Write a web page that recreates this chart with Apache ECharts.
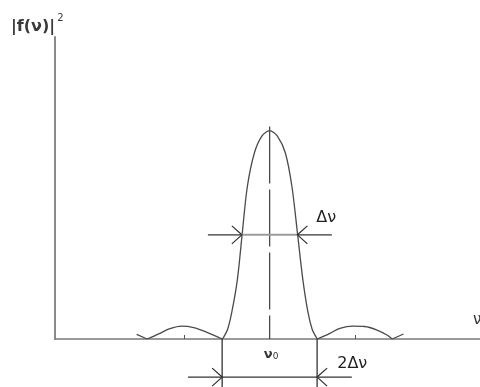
<!DOCTYPE html>
<html>
<head>
<meta charset="utf-8">
<script src="https://cdn.jsdelivr.net/npm/echarts@6/dist/echarts.min.js"></script>
<style>
  html, body { margin: 0; padding: 0; background: #fff; }
  #chart { width: 480px; height: 387px; }
</style>
</head>
<body>
<div id="chart"></div>
<script>
// Line profile |f(ν)|² around the centre frequency ν0.
// x: offset from ν0 (main-lobe zeros at ±1), y: intensity normalised to the peak.
const mainLobe = [
  [-1.0, 0], [-0.98, 0.005], [-0.89, 0.043], [-0.80, 0.125], [-0.68, 0.284],
  [-0.58, 0.5], [-0.47, 0.731], [-0.32, 0.894], [-0.16, 0.975], [0, 1],
  [0.16, 0.975], [0.33, 0.894], [0.47, 0.731], [0.59, 0.5], [0.70, 0.284],
  [0.81, 0.125], [0.90, 0.043], [0.99, 0.005], [1.0, 0]
];
const leftLobe = [
  [-2.58, 0], [-2.31, 0.027], [-2.1, 0.05], [-1.85, 0.062], [-1.6, 0.055],
  [-1.32, 0.032], [-1.0, 0]
];
const rightLobe = [
  [1.0, 0], [1.27, 0.027], [1.48, 0.051], [1.75, 0.062], [2.0, 0.06],
  [2.26, 0.043], [2.47, 0.019], [2.58, 0]
];
const leftTail = [[-2.8, 0.022], [-2.58, 0]];
const rightTail = [[2.58, 0], [2.82, 0.024]];

// Small ticks on the frequency axis (side-lobe maxima and ν0)
const axisTickValues = [-1.8, 0, 1.8];

// Widths marked on the profile
const halfMax = 0.5;      // level of the Δν marker
const halfWidth = 0.585;  // half of Δν (crossing of the half maximum)
const firstZero = 1.0;    // half of 2Δν (first zeros of the main lobe)

const chart = echarts.init(document.getElementById('chart'), null, { renderer: 'canvas' });

const curveColor = '#4a4a4a';
function curve(data, smooth) {
  return {
    type: 'line', data: data, smooth: smooth, symbol: 'none', silent: true,
    lineStyle: { color: curveColor, width: 1.3 }, z: 3
  };
}

function renderMarks(params, api) {
  const c = (x, y) => api.coord([x, y]);
  const dark = { stroke: '#333', lineWidth: 1.3, fill: null };
  const seg = (p, q, style) => ({
    type: 'line', shape: { x1: p[0], y1: p[1], x2: q[0], y2: q[1] }, style: style
  });
  const head = (tip, dir) => ({
    type: 'polyline',
    shape: { points: [[tip[0] - dir * 10, tip[1] - 9], tip, [tip[0] - dir * 10, tip[1] + 9]] },
    style: dark
  });
  const text = (p, str, size) => ({
    type: 'text', x: p[0], y: p[1],
    style: {
      text: str, fill: '#222', fontSize: size, fontFamily: 'DejaVu Sans',
      align: 'center', verticalAlign: 'middle'
    }
  });

  const yLow = -0.183;   // level of the 2Δν marker below the axis
  const nuZero = c(0.03, -0.072);
  const children = [
    // centre line at ν0
    seg(c(0, 1.02), c(0, 0), { stroke: curveColor, lineWidth: 1.3, lineDash: [57, 6] }),

    // Δν marker at half maximum
    seg(c(-halfWidth, halfMax), c(halfWidth, halfMax), { stroke: '#9c9c9c', lineWidth: 2 }),
    seg(c(-1.30, halfMax), c(-halfWidth, halfMax), dark),
    seg(c(halfWidth, halfMax), c(1.31, halfMax), dark),
    head(c(-halfWidth, halfMax), 1),
    head(c(halfWidth, halfMax), -1),
    text(c(1.19, 0.58), 'Δν', 16),

    // 2Δν marker between the first zeros
    seg(c(-firstZero, 0), c(-firstZero, -0.24), dark),
    seg(c(firstZero, 0), c(firstZero, -0.24), dark),
    seg(c(-1.72, yLow), c(1.73, yLow), dark),
    head(c(-firstZero, yLow), 1),
    head(c(firstZero, yLow), -1),
    text(c(1.74, -0.12), '2Δν', 16),

    // centre frequency label
    {
      type: 'text', x: nuZero[0], y: nuZero[1],
      style: {
        text: '{v|ν}{s|0}', align: 'center', verticalAlign: 'middle',
        rich: {
          v: { fontSize: 13, fontWeight: 'bold', fontFamily: 'DejaVu Sans', fill: '#333', verticalAlign: 'bottom', lineHeight: 14 },
          s: { fontSize: 9, fontFamily: 'DejaVu Sans', fill: '#333', verticalAlign: 'bottom', lineHeight: 14 }
        }
      }
    }
  ];
  return { type: 'group', children: children };
}

chart.setOption({
  animation: false,
  backgroundColor: '#fff',
  grid: { left: 55, right: 0, top: 37, bottom: 48 },
  xAxis: {
    type: 'value', min: -4.52, max: 4.43,
    axisLine: { onZero: false, lineStyle: { color: '#7a7a7a', width: 1.6 } },
    axisTick: { show: true, inside: true, length: 4, customValues: axisTickValues,
                lineStyle: { color: '#555', width: 1 } },
    axisLabel: { show: false },
    splitLine: { show: false }
  },
  yAxis: {
    type: 'value', min: 0, max: 1.45,
    axisLine: { show: true, onZero: false, lineStyle: { color: '#8a8a8a', width: 2 } },
    axisTick: { show: false },
    axisLabel: { show: false },
    splitLine: { show: false }
  },
  graphic: [
    {
      type: 'text', left: 11, top: 13,
      style: {
        text: '{m||f(ν)|}{s|2}',
        rich: {
          m: { fontSize: 16, fontWeight: 'bold', fontFamily: 'DejaVu Sans', fill: '#3a3a3a', verticalAlign: 'bottom', lineHeight: 22 },
          s: { fontSize: 10, fontFamily: 'DejaVu Sans', fill: '#3a3a3a', verticalAlign: 'top', lineHeight: 22, padding: [0, 0, 0, 2] }
        }
      }
    },
    {
      type: 'text', left: 473, top: 313,
      style: { text: 'ν', fontSize: 15, fontFamily: 'DejaVu Sans', fill: '#333' }
    }
  ],
  series: [
    curve(leftTail, false),
    curve(leftLobe, 0.35),
    curve(mainLobe, 0.3),
    curve(rightLobe, 0.35),
    curve(rightTail, false),
    {
      type: 'custom', coordinateSystem: 'cartesian2d', clip: false, silent: true, z: 4,
      data: [[0, 0]],
      renderItem: renderMarks
    }
  ]
});
</script>
</body>
</html>
